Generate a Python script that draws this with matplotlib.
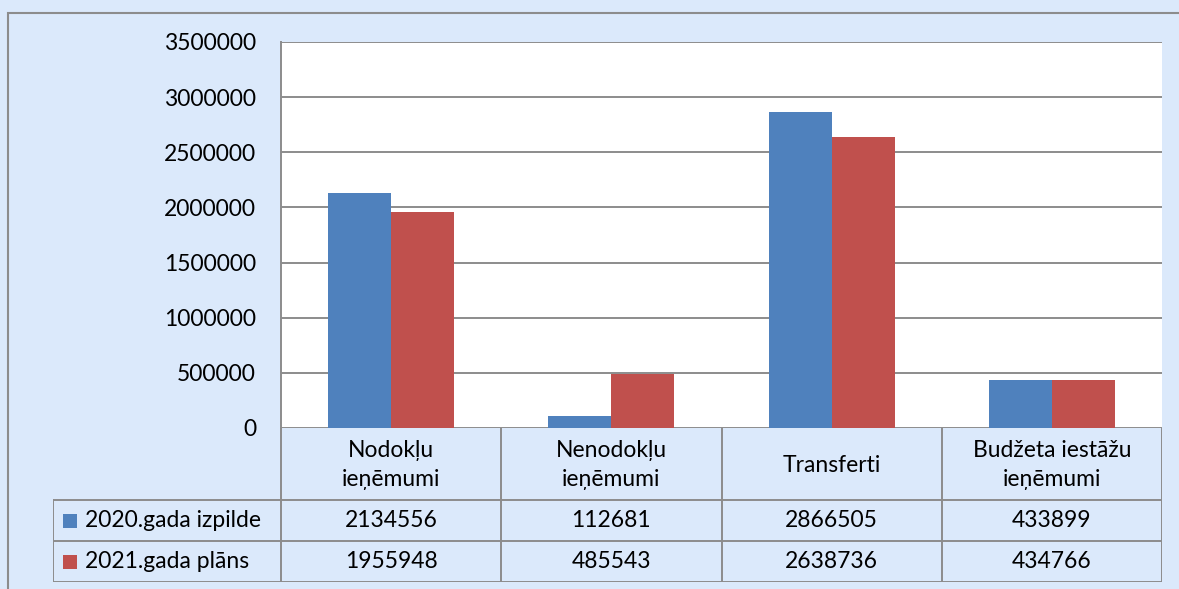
import matplotlib
matplotlib.use("Agg")
import matplotlib.pyplot as plt
from matplotlib.patches import Rectangle
import numpy as np

plt.rcParams['font.family'] = ['Lato', 'DejaVu Sans']

categories = ["Nodokļu\nieņēmumi", "Nenodokļu\nieņēmumi", "Transferti", "Budžeta iestāžu\nieņēmumi"]
series_names = ["2020.gada izpilde", "2021.gada plāns"]
izpilde_2020 = [2134556, 112681, 2866505, 433899]
plans_2021 = [1955948, 485543, 2638736, 434766]
colors = ["#4F81BD", "#C0504D"]

bg = "#DBE9FB"
line_col = "#8C8C8C"
W, H = 1179, 589

fig = plt.figure(figsize=(W / 100, H / 100), dpi=100, facecolor=bg)

def px_box(x0, y0, x1, y1):
    # pixel box (top-left origin) -> figure fraction
    return [x0 / W, 1 - y1 / H, (x1 - x0) / W, (y1 - y0) / H]

# outer chart frame, runs off the right and bottom edges
fig.patches.append(Rectangle((8 / W, -0.1), 1.2, 1 - 13 / H + 0.1, transform=fig.transFigure,
                             fill=False, edgecolor=line_col, lw=1.5))

ax = fig.add_axes(px_box(281, 42, 1162, 428))
ax.set_facecolor("white")
x = np.arange(len(categories))
bw = 0.286
ax.bar(x - bw, izpilde_2020, width=bw, align="edge", color=colors[0], zorder=3)
ax.bar(x, plans_2021, width=bw, align="edge", color=colors[1], zorder=3)
ax.set_xlim(-0.5, len(categories) - 0.5)
ax.set_ylim(0, 3500000)
ax.set_yticks(np.arange(0, 3500001, 500000))
ax.yaxis.set_major_formatter(matplotlib.ticker.FuncFormatter(lambda v, p: f"{int(v)}"))
ax.grid(axis="y", color=line_col, lw=1.4, zorder=1)
ax.set_xticks([])
ax.tick_params(axis="y", length=0, pad=18, labelsize=16.5)
for s in ["top", "right", "bottom"]:
    ax.spines[s].set_visible(False)
ax.spines["left"].set_color(line_col)
ax.spines["left"].set_linewidth(1.4)

# data table below the plot, in pixel coordinates
tab = fig.add_axes(px_box(53, 428, 1162, 582))
tab.set_xlim(53, 1162)
tab.set_ylim(582, 428)
tab.axis("off")
col_edges = [281 + i * (1162 - 281) / len(categories) for i in range(len(categories) + 1)]
row_edges = [428, 500, 541, 582]
lk = dict(color=line_col, lw=1.4, solid_capstyle="projecting")
for xe in col_edges:
    tab.plot([xe, xe], [row_edges[0], row_edges[-1]], **lk)
tab.plot([53, 53], [row_edges[1], row_edges[-1]], **lk)
for ye in row_edges[1:]:
    tab.plot([53, 1162], [ye, ye], **lk)

for i, cat in enumerate(categories):
    cx = (col_edges[i] + col_edges[i + 1]) / 2
    tab.text(cx, (row_edges[0] + row_edges[1]) / 2 + 1, cat, ha="center", va="center",
             fontsize=16.5, linespacing=1.45)
    for r, vals in enumerate([izpilde_2020, plans_2021]):
        tab.text(cx, (row_edges[r + 1] + row_edges[r + 2]) / 2, str(vals[i]),
                 ha="center", va="center", fontsize=16.5)

for r, name in enumerate(series_names):
    cy = (row_edges[r + 1] + row_edges[r + 2]) / 2
    tab.add_patch(Rectangle((63, cy - 7), 14, 14, color=colors[r], lw=0))
    tab.text(85, cy, name, ha="left", va="center", fontsize=16.5)

fig.savefig("out.png", dpi=100, facecolor=bg)
